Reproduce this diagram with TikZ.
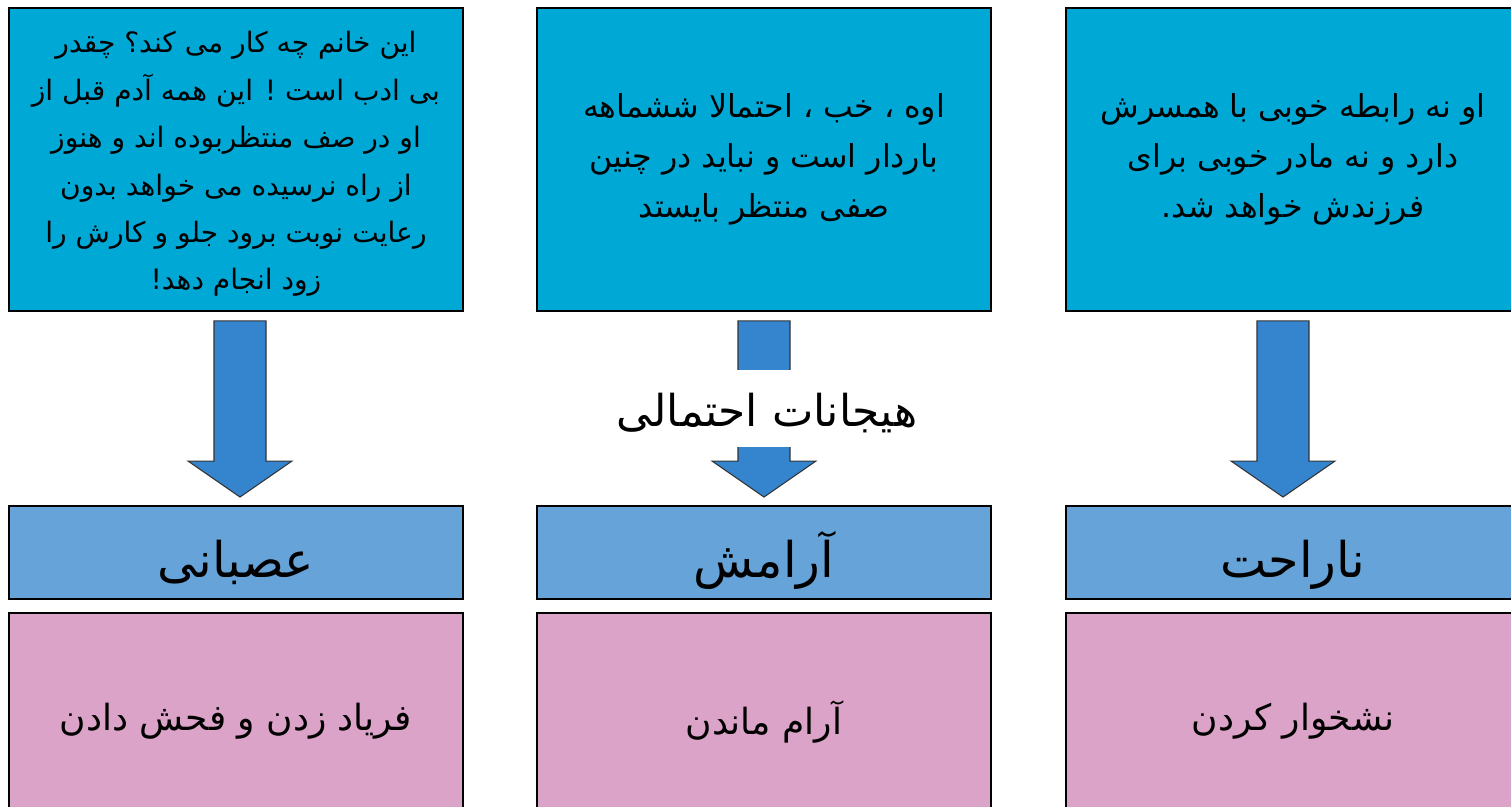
\documentclass[tikz,border=0pt]{standalone}
\usepackage{fontspec}
\usepackage{tikz}
\usetikzlibrary{calc}
\TeXXeTstate=1
\newfontfamily\arabicfont[Script=Arabic]{DejaVu Sans}
\definecolor{thoughtcyan}{RGB}{0, 168, 214}
\definecolor{feelblue}{RGB}{102, 163, 216}
\definecolor{actpink}{RGB}{220, 163, 200}
\definecolor{arrowblue}{RGB}{53, 132, 206}

\newcommand{\rl}[1]{\beginR #1\endR}
\newcommand{\blockarrow}[3][0]{%
  \path ($(#2.south)+(#1,9)$) coordinate (s) ($(#3.north)+(#1,-8)$) coordinate (e);
  \draw[arrowshape] ($(s)+(-26,0)$) -- ($(s)+(26,0)$) -- ($(e)+(26,-36)$) -- ($(e)+(52,-36)$)
    -- (e) -- ($(e)+(-52,-36)$) -- ($(e)+(-26,-36)$) -- cycle;}

\begin{document}
\begin{tikzpicture}[x=0.02cm, y=-0.02cm,
    thought/.style={draw=black, line width=1.1pt, fill=thoughtcyan, minimum width=9.08cm,
      minimum height=6.06cm, inner sep=0pt, align=center,
      font=\arabicfont\fontsize{18}{28.5}\selectfont},
    feeling/.style={draw=black, line width=1.1pt, fill=feelblue, minimum width=9.08cm,
      minimum height=1.86cm, inner sep=0pt, text height=1.02cm, text depth=0cm,
      font=\arabicfont\fontsize{28}{34}\selectfont},
    action/.style={draw=black, line width=1.1pt, fill=actpink, minimum width=9.08cm,
      minimum height=4.34cm, inner sep=0pt, font=\arabicfont\fontsize{20.5}{24}\selectfont},
    arrowshape/.style={fill=arrowblue, draw=black!80, line width=0.6pt}]
    \useasboundingbox (0,0) rectangle (1511,807);

    % افکار
    \node[thought, text height=5.22cm, text depth=0pt,
      font=\arabicfont\fontsize{16}{27}\selectfont] (thleft) at (236,159.5) {\rl{این خانم چه کار می کند؟ چقدر}\\
      \rl{بی ادب است ! این همه آدم قبل از}\\
      \rl{او در صف منتظربوده اند و هنوز}\\
      \rl{از راه نرسیده می خواهد بدون}\\
      \rl{رعایت نوبت برود جلو و کارش را}\\
      \rl{زود انجام دهد!}};
    \node[thought] (thmid) at (764,159.5) {\rl{اوه ، خب ، احتمالا ششماهه}\\
      \rl{باردار است و نباید در چنین}\\
      \rl{صفی منتظر بایستد}};
    \node[thought] (thright) at (1293,159.5) {\rl{او نه رابطه خوبی با همسرش}\\
      \rl{دارد و نه مادر خوبی برای}\\
      \rl{فرزندش خواهد شد.}};

    % هیجانات
    \node[feeling] (feleft) at (236,552.5) {\rl{عصبانی}};
    \node[feeling] (femid) at (764,552.5) {\rl{آرامش}};
    \node[feeling] (feright) at (1293,552.5) {\rl{ناراحت}};

    % رفتارها
    \node[action] (acleft) at (236,721.5) {\rl{فریاد زدن و فحش دادن}};
    \node[action] (acmid) at (764,721.5) {\rl{آرام ماندن}};
    \node[action] (acright) at (1293,721.5) {\rl{نشخوار کردن}};

    % پیکان ها
    \blockarrow[4]{thleft}{feleft}
    \blockarrow{thmid}{femid}
    \blockarrow[-10]{thright}{feright}

    % برچسب وسط
    \node[fill=white, minimum height=1.54cm, inner sep=2pt, text height=0.74cm, text depth=0cm,
      font=\arabicfont\fontsize{25}{30}\selectfont] (emolabel) at (767,408.5) {\rl{هیجانات احتمالی}};
\end{tikzpicture}
\end{document}
